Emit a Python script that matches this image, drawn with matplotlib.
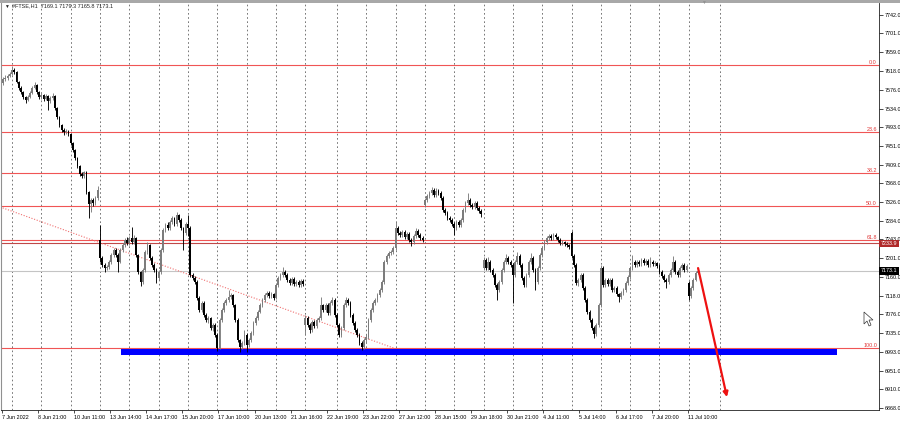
import matplotlib
matplotlib.use("Agg")
import matplotlib.pyplot as plt
import matplotlib.transforms as mtransforms
from matplotlib.patches import Rectangle, Polygon
import numpy as np

plt.rcParams['font.family'] = ['Liberation Sans', 'DejaVu Sans']

# --- #FTSE H1: cierres / maximos / minimos ---
closes = [
    7600, 7602, 7606, 7611, 7620, 7615, 7593, 7580, 7571, 7560, 7553, 7560, 7569,
    7580, 7586, 7571, 7560, 7564, 7555, 7562, 7551, 7557, 7562, 7535, 7515, 7497,
    7486, 7482, 7484, 7477, 7457, 7442, 7424, 7406, 7388, 7384, 7393, 7348, 7322,
    7331, 7324, 7335, 7353, 7202, 7186, 7179, 7182, 7193, 7208, 7219, 7208, 7193,
    7219, 7230, 7242, 7235, 7246, 7237, 7246, 7208, 7170, 7148, 7175, 7215, 7230,
    7202, 7186, 7175, 7157, 7170, 7219, 7264, 7275, 7268, 7282, 7291, 7277, 7297,
    7286, 7268, 7257, 7277, 7268, 7164, 7157, 7148, 7113, 7086, 7102, 7075, 7064,
    7068, 7046, 7053, 7030, 7001, 7064, 7086, 7102, 7108, 7115, 7119, 7097, 7064,
    7019, 7004, 7013, 7030, 7008, 7019, 7035, 7057, 7068, 7082, 7097, 7108, 7119,
    7124, 7117, 7121, 7113, 7142, 7157, 7164, 7170, 7164, 7153, 7146, 7155, 7144,
    7148, 7142, 7150, 7144, 7068, 7053, 7041, 7059, 7050, 7064, 7068, 7097, 7086,
    7097, 7079, 7102, 7108, 7075, 7053, 7030, 7046, 7097, 7108, 7102, 7075, 7057,
    7041, 7030, 7013, 7004, 7019, 7026, 7064, 7086, 7102, 7108, 7119, 7130, 7148,
    7193, 7206, 7213, 7215, 7224, 7268, 7257, 7253, 7259, 7248, 7255, 7242, 7237,
    7251, 7262, 7253, 7246, 7242, 7331, 7340, 7346, 7353, 7342, 7351, 7346, 7335,
    7308, 7302, 7291, 7286, 7277, 7268, 7282, 7275, 7286, 7308, 7324, 7331, 7319,
    7315, 7324, 7313, 7306, 7299, 7197, 7179, 7193, 7175, 7164, 7142, 7130, 7148,
    7175, 7193, 7202, 7193, 7186, 7164, 7193, 7206, 7186, 7157, 7142, 7164, 7193,
    7202, 7175, 7148, 7179, 7208, 7224, 7237, 7246, 7251, 7246, 7253, 7248, 7242,
    7235, 7237, 7233, 7230, 7226, 7206, 7186, 7146, 7153, 7164, 7135, 7108, 7082,
    7064, 7046, 7033, 7053, 7097, 7179, 7142, 7153, 7144, 7153, 7130, 7135, 7121,
    7115, 7124, 7130, 7146, 7159, 7179, 7193, 7186, 7193, 7188, 7197, 7190, 7195,
    7186, 7193, 7188, 7190, 7184, 7170, 7162, 7153, 7148, 7164, 7175, 7193, 7170,
    7164, 7179, 7186, 7175, 7184, 7117, 7135, 7153, 7169.1, 7173.1,
]
highs = [
    7604, 7608, 7610, 7615, 7629, 7624, 7617, 7596, 7584, 7573, 7562, 7564, 7573,
    7584, 7593, 7589, 7574, 7569, 7567, 7566, 7565, 7561, 7568, 7565, 7538, 7518,
    7500, 7490, 7489, 7487, 7480, 7460, 7445, 7427, 7409, 7392, 7396, 7396, 7351,
    7335, 7336, 7339, 7362, 7275, 7206, 7190, 7186, 7197, 7212, 7224, 7223, 7212,
    7223, 7235, 7246, 7248, 7251, 7271, 7252, 7249, 7211, 7173, 7179, 7219, 7237,
    7233, 7206, 7190, 7179, 7175, 7223, 7268, 7280, 7282, 7286, 7295, 7293, 7304,
    7300, 7290, 7271, 7281, 7297, 7272, 7168, 7162, 7152, 7117, 7106, 7106, 7079,
    7073, 7071, 7057, 7056, 7034, 7068, 7090, 7106, 7113, 7130, 7124, 7122, 7100,
    7068, 7022, 7017, 7041, 7034, 7023, 7039, 7061, 7073, 7086, 7102, 7113, 7124,
    7128, 7128, 7126, 7124, 7146, 7162, 7168, 7182, 7175, 7168, 7157, 7159, 7159,
    7153, 7152, 7155, 7154, 7075, 7072, 7057, 7064, 7063, 7068, 7073, 7115, 7100,
    7102, 7101, 7106, 7115, 7112, 7079, 7057, 7050, 7102, 7115, 7113, 7106, 7079,
    7061, 7046, 7034, 7017, 7024, 7032, 7068, 7090, 7106, 7113, 7124, 7135, 7153,
    7197, 7211, 7217, 7219, 7228, 7282, 7273, 7262, 7264, 7263, 7259, 7259, 7246,
    7255, 7268, 7266, 7257, 7250, 7335, 7344, 7351, 7360, 7357, 7357, 7355, 7351,
    7339, 7313, 7306, 7295, 7291, 7282, 7286, 7286, 7291, 7313, 7328, 7346, 7335,
    7324, 7328, 7328, 7317, 7310, 7204, 7201, 7204, 7197, 7179, 7168, 7146, 7153,
    7179, 7197, 7211, 7206, 7197, 7190, 7197, 7215, 7210, 7190, 7162, 7168, 7197,
    7213, 7206, 7179, 7184, 7213, 7228, 7242, 7250, 7255, 7255, 7257, 7257, 7250,
    7246, 7241, 7240, 7237, 7233, 7262, 7210, 7190, 7157, 7168, 7168, 7139, 7113,
    7086, 7068, 7050, 7057, 7102, 7186, 7184, 7157, 7157, 7157, 7157, 7139, 7139,
    7124, 7128, 7135, 7150, 7164, 7184, 7208, 7197, 7197, 7197, 7202, 7202, 7199,
    7199, 7204, 7197, 7195, 7193, 7188, 7175, 7166, 7157, 7168, 7179, 7206, 7197,
    7175, 7184, 7190, 7190, 7188, 7150, 7139, 7157, 7172, 7179.3,
]
lows = [
    7586, 7596, 7598, 7603, 7608, 7611, 7590, 7576, 7567, 7556, 7546, 7550, 7557,
    7566, 7577, 7567, 7555, 7556, 7551, 7552, 7531, 7546, 7554, 7531, 7510, 7492,
    7481, 7476, 7478, 7473, 7453, 7437, 7420, 7401, 7384, 7379, 7380, 7344, 7291,
    7304, 7318, 7320, 7331, 7193, 7182, 7170, 7174, 7178, 7189, 7204, 7203, 7170,
    7190, 7215, 7226, 7230, 7231, 7232, 7233, 7203, 7166, 7139, 7144, 7170, 7211,
    7198, 7182, 7171, 7146, 7153, 7166, 7215, 7259, 7264, 7264, 7278, 7273, 7273,
    7282, 7264, 7219, 7253, 7250, 7160, 7152, 7144, 7108, 7081, 7082, 7070, 7059,
    7057, 7041, 7040, 7026, 6995, 6998, 7060, 7082, 7097, 7104, 7110, 7093, 7059,
    7015, 6993, 6999, 7009, 6993, 7004, 7015, 7031, 7053, 7064, 7078, 7093, 7104,
    7115, 7113, 7113, 7108, 7110, 7138, 7153, 7160, 7160, 7148, 7142, 7142, 7139,
    7140, 7137, 7138, 7140, 7030, 7048, 7035, 7037, 7046, 7046, 7060, 7064, 7082,
    7082, 7075, 7075, 7097, 7070, 7048, 7026, 7026, 7042, 7093, 7097, 7070, 7053,
    7037, 7026, 7008, 6997, 7000, 7013, 7022, 7060, 7082, 7097, 7104, 7115, 7126,
    7144, 7188, 7202, 7208, 7210, 7220, 7253, 7248, 7248, 7244, 7244, 7237, 7228,
    7233, 7246, 7248, 7242, 7237, 7315, 7326, 7335, 7342, 7337, 7337, 7342, 7331,
    7304, 7297, 7286, 7282, 7273, 7253, 7264, 7271, 7271, 7282, 7304, 7319, 7315,
    7310, 7310, 7308, 7302, 7293, 7175, 7175, 7175, 7170, 7160, 7137, 7108, 7126,
    7144, 7170, 7188, 7188, 7182, 7101, 7160, 7188, 7182, 7153, 7137, 7137, 7160,
    7188, 7170, 7130, 7144, 7175, 7204, 7219, 7233, 7242, 7242, 7242, 7244, 7237,
    7231, 7231, 7228, 7226, 7222, 7202, 7182, 7142, 7140, 7148, 7130, 7104, 7077,
    7059, 7041, 7024, 7028, 7048, 7093, 7137, 7137, 7140, 7140, 7126, 7126, 7117,
    7104, 7110, 7119, 7126, 7142, 7155, 7175, 7182, 7182, 7184, 7184, 7186, 7186,
    7182, 7182, 7184, 7184, 7179, 7166, 7157, 7148, 7135, 7144, 7160, 7170, 7166,
    7160, 7160, 7175, 7170, 7170, 7108, 7113, 7130, 7150, 7165.8,
]
# aperturas de sesion con hueco; las demas velas abren en el cierre anterior
gap_opens = {0: 7590, 43: 7242, 134: 7053, 187: 7319, 213: 7179, 252: 7257, 304: 7146}

time_labels = [
    "7 Jun 2022", "8 Jun 21:00", "10 Jun 11:00", "13 Jun 14:00", "14 Jun 17:00",
    "15 Jun 20:00", "17 Jun 10:00", "20 Jun 13:00", "21 Jun 16:00", "22 Jun 19:00",
    "23 Jun 22:00", "27 Jun 12:00", "28 Jun 15:00", "29 Jun 18:00", "30 Jun 21:00",
    "4 Jul 11:00", "5 Jul 14:00", "6 Jul 17:00", "7 Jul 20:00", "11 Jul 10:00",
]
BARS_PER_LABEL = 16
day_starts = [4, 17, 30, 43, 56, 69, 82, 95, 108, 121, 134, 148, 161, 174, 187,
              200, 213, 226, 239, 252, 265, 278, 291, 304, 318]

price_ticks = [7742.0, 7701.0, 7659.0, 7618.0, 7576.0, 7534.0, 7493.0, 7451.0,
               7409.0, 7368.0, 7326.0, 7284.0, 7243.0, 7201.0, 7160.0, 7118.0,
               7076.0, 7035.0, 6993.0, 6951.0, 6910.0, 6868.0]

# Fibonacci (0 arriba, 100 abajo)
fib_top = 7631.0
fib_bottom = 7001.0
fib_levels = [0.0, 23.6, 38.2, 50.0, 61.8, 100.0]

level_line = 7233.9
bid_price = closes[-1]

# soporte azul y linea de tendencia (barra, precio)
support_zone = (52.3, 369.7, 6985.8, 6999.0)
trend_line = ((-1.3, 7315.0), (173.8, 7000.0))
forecast_arrow = ((308.1, 7179.0), (320.9, 6892.0))

COLORS = {
    'bull': '#7c7c7c',
    'bear': '#000000',
    'fib': '#f05555',
    'grid': '#606060',
    'support': '#0000ff',
    'arrow': '#ee1111',
}

# --- figura ---
W, H = 900, 421
fig = plt.figure(figsize=(W / 100, H / 100), dpi=100)
fig.patch.set_facecolor('white')
ax = fig.add_axes([1 / W, (H - 410) / H, 878 / W, 407 / H])
ax.set_facecolor('white')

n = len(closes)
idx = np.arange(n)
c = np.array(closes, dtype=float)
opens = np.array([gap_opens.get(i, closes[i - 1]) for i in range(n)], dtype=float)
up = c >= opens
cols = np.where(up, COLORS['bull'], COLORS['bear'])

# grid vertical por sesion
for d in day_starts:
    ax.axvline(d, color=COLORS['grid'], lw=0.6, ls=(0, (2, 3)), zorder=0)

# niveles fibo
span = fib_top - fib_bottom
blend = mtransforms.blended_transform_factory(ax.transAxes, ax.transData)
for lvl in fib_levels:
    p = fib_top - span * lvl / 100
    ax.axhline(p, color=COLORS['fib'], lw=0.8, zorder=1)
    ax.text(0.9977, p, f"{lvl:.1f}", transform=blend,
            ha='right', va='bottom', fontsize=3.9, color='#e03535')

ax.axhline(level_line, color='#c04848', lw=0.8, zorder=1)
ax.axhline(bid_price, color='#c4c4c4', lw=0.8, zorder=1)

# linea de tendencia punteada
(tx0, ty0), (tx1, ty1) = trend_line
ax.plot([tx0, tx1], [ty0, ty1], color='#f07070', lw=0.8, ls=(0, (1, 1.5)), zorder=1)

# zona de soporte
zx0, zx1, zy0, zy1 = support_zone
ax.add_patch(Rectangle((zx0, zy0), zx1 - zx0, zy1 - zy0, facecolor=COLORS['support'],
                       edgecolor='none', zorder=2))

# velas
ax.vlines(idx, lows, highs, colors=cols, lw=0.65, zorder=3)
ax.bar(idx, np.maximum(np.abs(c - opens), 1.0), bottom=np.minimum(c, opens),
       width=0.78, color=cols, linewidth=0, zorder=3)

# flecha de pronostico
(ax0, ay0), (ax1, ay1) = forecast_arrow
ax.annotate('', xy=(ax1, ay1), xytext=(ax0, ay0),
            arrowprops=dict(arrowstyle='-|>', color=COLORS['arrow'], lw=1.6,
                            mutation_scale=7, shrinkA=0, shrinkB=0), zorder=5)

# ejes
ax.set_xlim(-0.887, 388.3)
ax.set_ylim(6863.3, 7768.7)

ax.yaxis.tick_right()
ax.set_yticks(price_ticks)
ax.set_yticklabels([f"{v:.1f}" for v in price_ticks])
ax.tick_params(axis='y', length=3, width=0.5, pad=1, labelsize=3.9, colors='black')

ax.set_xticks([BARS_PER_LABEL * k - 0.5 for k in range(len(time_labels))])
ax.set_xticklabels(time_labels, ha='left')
ax.tick_params(axis='x', length=2.5, width=0.5, pad=1, labelsize=3.9, colors='black')

for side in ['right', 'bottom']:
    ax.spines[side].set_color('#202020')
    ax.spines[side].set_linewidth(0.6)
ax.spines['left'].set_color('#909090')
ax.spines['left'].set_linewidth(0.8)
ax.spines['top'].set_visible(False)

# etiquetas de precio a la derecha
ax.text(1.002, level_line, f"{level_line:.1f}", transform=blend, ha='left', va='center',
        fontsize=3.9, color='white', clip_on=False,
        bbox=dict(boxstyle='square,pad=0.25', fc='#b02a2a', ec='none'))
ax.text(1.002, bid_price, f"{bid_price:.1f}", transform=blend, ha='left', va='center',
        fontsize=3.9, color='white', clip_on=False,
        bbox=dict(boxstyle='square,pad=0.25', fc='black', ec='none'))

# cabecera y barra superior
fig.patches.append(Rectangle((0, (H - 3) / H), 1, 3 / H, transform=fig.transFigure,
                             facecolor='#a8a8a8', edgecolor='none'))
fig.text(4 / W, 1 - 6 / H, '\u25bc', fontsize=3.5, va='center', ha='left', color='#222222')
header = f"#FTSE,H1  {opens[-1]:.1f} {highs[-1]:.1f} {lows[-1]:.1f} {closes[-1]:.1f}"
fig.text(12 / W, 1 - 6 / H, header, fontsize=4, va='center', ha='left', color='#222222')
fig.text(703 / W, 1 - 2 / H, '\u25bc', fontsize=3.5, va='center', ha='center', color='#909090')

# puntero del raton
px = mtransforms.Affine2D().scale(1 / W, -1 / H).translate(0, 1) + fig.transFigure
cursor = Polygon([(864, 312), (864, 324), (867, 321), (869, 326), (871, 325),
                  (869, 320), (873, 320)], closed=True, transform=px,
                 facecolor='white', edgecolor='#333333', lw=0.5)
fig.patches.append(cursor)

fig.savefig('out.png', dpi=100, facecolor='white')
